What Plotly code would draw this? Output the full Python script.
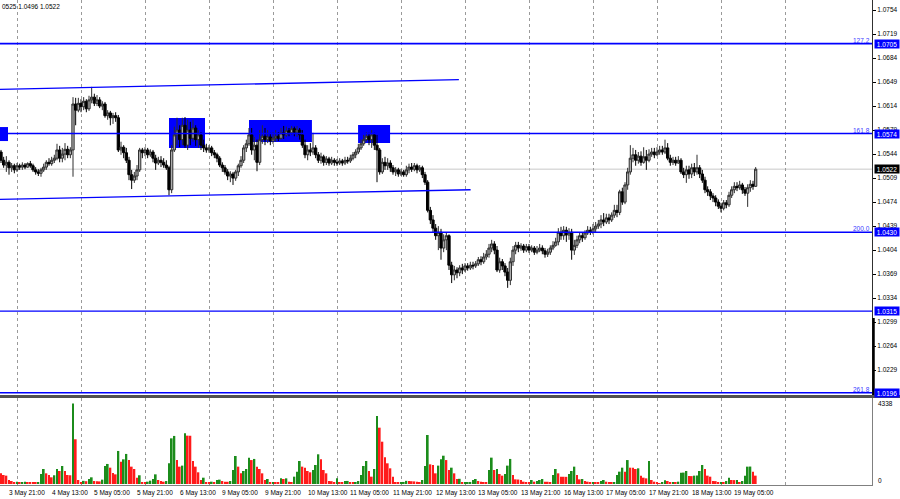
import plotly.graph_objects as go

# ---------------- data ----------------
FIRST_BAR = -3          # bar index of the first candle (0 = "3 May 21:00")
FIRST_OPEN = 1.0547

CLOSE = [
    1.0535, 1.0528, 1.0532, 1.0524, 1.0527, 1.0521, 1.0527, 1.0525, 1.0528, 1.0525,
    1.0530, 1.0527, 1.0521, 1.0518, 1.0516, 1.0521, 1.0525, 1.0532, 1.0530, 1.0535,
    1.0538, 1.0550, 1.0538, 1.0544, 1.0551, 1.0543, 1.0550, 1.0617, 1.0608, 1.0618,
    1.0613, 1.0621, 1.0610, 1.0623, 1.0627, 1.0618, 1.0623, 1.0614, 1.0617, 1.0600,
    1.0604, 1.0597, 1.0600, 1.0597, 1.0550, 1.0554, 1.0546, 1.0535, 1.0514, 1.0506,
    1.0512, 1.0521, 1.0550, 1.0546, 1.0550, 1.0543, 1.0547, 1.0538, 1.0531, 1.0535,
    1.0532, 1.0528, 1.0524, 1.0492, 1.0550, 1.0572, 1.0579, 1.0565, 1.0586, 1.0557,
    1.0579, 1.0567, 1.0582, 1.0565, 1.0572, 1.0557, 1.0553, 1.0550, 1.0553, 1.0546,
    1.0543, 1.0538, 1.0528, 1.0524, 1.0518, 1.0512, 1.0515, 1.0509, 1.0518, 1.0527,
    1.0535, 1.0553, 1.0559, 1.0572, 1.0550, 1.0557, 1.0532, 1.0565, 1.0570, 1.0565,
    1.0569, 1.0563, 1.0567, 1.0570, 1.0567, 1.0575, 1.0572, 1.0578, 1.0575, 1.0581,
    1.0576, 1.0579, 1.0572, 1.0557, 1.0543, 1.0550, 1.0547, 1.0553, 1.0543, 1.0535,
    1.0540, 1.0532, 1.0537, 1.0531, 1.0535, 1.0532, 1.0531, 1.0534, 1.0531, 1.0535,
    1.0534, 1.0538, 1.0543, 1.0547, 1.0553, 1.0559, 1.0565, 1.0570, 1.0565, 1.0572,
    1.0557, 1.0550, 1.0518, 1.0532, 1.0527, 1.0531, 1.0524, 1.0518, 1.0521, 1.0515,
    1.0518, 1.0514, 1.0521, 1.0525, 1.0522, 1.0527, 1.0521, 1.0524, 1.0514, 1.0503,
    1.0462, 1.0448, 1.0436, 1.0425, 1.0430, 1.0407, 1.0419, 1.0425, 1.0382, 1.0368,
    1.0375, 1.0371, 1.0378, 1.0375, 1.0381, 1.0378, 1.0382, 1.0381, 1.0384, 1.0390,
    1.0387, 1.0394, 1.0398, 1.0407, 1.0413, 1.0404, 1.0375, 1.0387, 1.0381, 1.0372,
    1.0360, 1.0387, 1.0404, 1.0411, 1.0407, 1.0410, 1.0404, 1.0409, 1.0404, 1.0407,
    1.0401, 1.0404, 1.0407, 1.0403, 1.0398, 1.0401, 1.0407, 1.0411, 1.0416, 1.0430,
    1.0425, 1.0433, 1.0426, 1.0430, 1.0404, 1.0411, 1.0419, 1.0425, 1.0422, 1.0429,
    1.0433, 1.0430, 1.0435, 1.0439, 1.0442, 1.0448, 1.0445, 1.0451, 1.0448, 1.0455,
    1.0462, 1.0459, 1.0489, 1.0474, 1.0499, 1.0518, 1.0538, 1.0543, 1.0535, 1.0541,
    1.0532, 1.0540, 1.0535, 1.0544, 1.0547, 1.0543, 1.0547, 1.0550, 1.0547, 1.0553,
    1.0538, 1.0532, 1.0535, 1.0531, 1.0535, 1.0518, 1.0514, 1.0521, 1.0515, 1.0524,
    1.0518, 1.0524, 1.0515, 1.0506, 1.0492, 1.0489, 1.0483, 1.0480, 1.0474, 1.0468,
    1.0465, 1.0473, 1.0470, 1.0484, 1.0492, 1.0497, 1.0495, 1.0499, 1.0492, 1.0487,
    1.0495, 1.0500, 1.0497, 1.0522,
]

HIGH = [
    1.0550, 1.0540, 1.0541, 1.0535, 1.0531, 1.0530, 1.0531, 1.0530, 1.0532, 1.0531,
    1.0532, 1.0534, 1.0530, 1.0525, 1.0522, 1.0524, 1.0530, 1.0535, 1.0538, 1.0540,
    1.0543, 1.0559, 1.0556, 1.0553, 1.0560, 1.0556, 1.0554, 1.0627, 1.0626, 1.0626,
    1.0624, 1.0627, 1.0624, 1.0629, 1.0642, 1.0632, 1.0630, 1.0627, 1.0621, 1.0620,
    1.0608, 1.0607, 1.0604, 1.0605, 1.0601, 1.0562, 1.0557, 1.0553, 1.0540, 1.0521,
    1.0518, 1.0528, 1.0553, 1.0553, 1.0554, 1.0553, 1.0551, 1.0550, 1.0543, 1.0540,
    1.0541, 1.0538, 1.0535, 1.0527, 1.0557, 1.0584, 1.0597, 1.0586, 1.0597, 1.0598,
    1.0594, 1.0591, 1.0594, 1.0586, 1.0579, 1.0576, 1.0565, 1.0559, 1.0557, 1.0556,
    1.0550, 1.0546, 1.0541, 1.0532, 1.0528, 1.0522, 1.0519, 1.0518, 1.0521, 1.0530,
    1.0541, 1.0557, 1.0565, 1.0582, 1.0582, 1.0569, 1.0565, 1.0579, 1.0586, 1.0582,
    1.0579, 1.0575, 1.0576, 1.0579, 1.0576, 1.0582, 1.0585, 1.0584, 1.0582, 1.0585,
    1.0584, 1.0585, 1.0582, 1.0579, 1.0565, 1.0557, 1.0560, 1.0575, 1.0557, 1.0547,
    1.0546, 1.0543, 1.0541, 1.0540, 1.0540, 1.0538, 1.0537, 1.0538, 1.0537, 1.0540,
    1.0540, 1.0543, 1.0547, 1.0551, 1.0559, 1.0565, 1.0572, 1.0576, 1.0575, 1.0579,
    1.0575, 1.0572, 1.0553, 1.0538, 1.0540, 1.0538, 1.0535, 1.0528, 1.0525, 1.0524,
    1.0522, 1.0521, 1.0527, 1.0530, 1.0531, 1.0531, 1.0530, 1.0528, 1.0527, 1.0518,
    1.0506, 1.0467, 1.0455, 1.0442, 1.0439, 1.0435, 1.0427, 1.0430, 1.0427, 1.0387,
    1.0381, 1.0379, 1.0382, 1.0384, 1.0385, 1.0385, 1.0387, 1.0387, 1.0388, 1.0394,
    1.0395, 1.0400, 1.0404, 1.0413, 1.0419, 1.0417, 1.0410, 1.0393, 1.0391, 1.0385,
    1.0378, 1.0393, 1.0410, 1.0416, 1.0416, 1.0414, 1.0413, 1.0413, 1.0413, 1.0411,
    1.0410, 1.0410, 1.0413, 1.0411, 1.0407, 1.0406, 1.0411, 1.0417, 1.0422, 1.0436,
    1.0438, 1.0439, 1.0438, 1.0436, 1.0435, 1.0419, 1.0425, 1.0430, 1.0429, 1.0433,
    1.0439, 1.0438, 1.0442, 1.0445, 1.0448, 1.0455, 1.0458, 1.0457, 1.0457, 1.0459,
    1.0470, 1.0470, 1.0492, 1.0495, 1.0503, 1.0524, 1.0557, 1.0553, 1.0550, 1.0547,
    1.0548, 1.0554, 1.0550, 1.0551, 1.0553, 1.0553, 1.0554, 1.0556, 1.0556, 1.0565,
    1.0560, 1.0543, 1.0540, 1.0540, 1.0541, 1.0538, 1.0524, 1.0527, 1.0527, 1.0530,
    1.0531, 1.0543, 1.0528, 1.0521, 1.0511, 1.0497, 1.0493, 1.0487, 1.0484, 1.0478,
    1.0473, 1.0477, 1.0477, 1.0489, 1.0497, 1.0503, 1.0503, 1.0505, 1.0502, 1.0496,
    1.0500, 1.0506, 1.0505, 1.0525,
]

LOW = [
    1.0531, 1.0524, 1.0518, 1.0514, 1.0518, 1.0516, 1.0518, 1.0521, 1.0521, 1.0522,
    1.0524, 1.0524, 1.0518, 1.0514, 1.0512, 1.0511, 1.0518, 1.0521, 1.0527, 1.0527,
    1.0531, 1.0535, 1.0532, 1.0532, 1.0535, 1.0538, 1.0538, 1.0511, 1.0586, 1.0605,
    1.0605, 1.0608, 1.0605, 1.0607, 1.0618, 1.0614, 1.0614, 1.0611, 1.0608, 1.0597,
    1.0594, 1.0586, 1.0588, 1.0591, 1.0547, 1.0543, 1.0538, 1.0531, 1.0506, 1.0493,
    1.0502, 1.0506, 1.0518, 1.0538, 1.0541, 1.0538, 1.0540, 1.0532, 1.0521, 1.0528,
    1.0525, 1.0524, 1.0521, 1.0484, 1.0487, 1.0547, 1.0557, 1.0554, 1.0557, 1.0553,
    1.0550, 1.0557, 1.0562, 1.0556, 1.0553, 1.0550, 1.0547, 1.0546, 1.0546, 1.0541,
    1.0538, 1.0532, 1.0525, 1.0518, 1.0514, 1.0506, 1.0503, 1.0499, 1.0505, 1.0512,
    1.0524, 1.0531, 1.0547, 1.0556, 1.0543, 1.0535, 1.0519, 1.0528, 1.0559, 1.0557,
    1.0560, 1.0557, 1.0559, 1.0562, 1.0563, 1.0565, 1.0566, 1.0569, 1.0570, 1.0572,
    1.0570, 1.0569, 1.0565, 1.0553, 1.0538, 1.0535, 1.0541, 1.0543, 1.0538, 1.0531,
    1.0530, 1.0527, 1.0528, 1.0527, 1.0528, 1.0527, 1.0527, 1.0528, 1.0527, 1.0528,
    1.0530, 1.0531, 1.0535, 1.0538, 1.0544, 1.0550, 1.0556, 1.0562, 1.0557, 1.0553,
    1.0550, 1.0503, 1.0514, 1.0515, 1.0521, 1.0521, 1.0518, 1.0514, 1.0512, 1.0511,
    1.0512, 1.0511, 1.0511, 1.0516, 1.0518, 1.0519, 1.0516, 1.0518, 1.0509, 1.0499,
    1.0459, 1.0442, 1.0430, 1.0419, 1.0404, 1.0390, 1.0401, 1.0404, 1.0375, 1.0356,
    1.0360, 1.0363, 1.0366, 1.0369, 1.0372, 1.0374, 1.0375, 1.0376, 1.0378, 1.0381,
    1.0382, 1.0384, 1.0390, 1.0393, 1.0401, 1.0398, 1.0372, 1.0371, 1.0375, 1.0366,
    1.0349, 1.0353, 1.0381, 1.0398, 1.0401, 1.0403, 1.0400, 1.0401, 1.0400, 1.0401,
    1.0397, 1.0398, 1.0401, 1.0398, 1.0393, 1.0394, 1.0397, 1.0404, 1.0409, 1.0411,
    1.0419, 1.0419, 1.0416, 1.0419, 1.0390, 1.0397, 1.0407, 1.0414, 1.0416, 1.0419,
    1.0426, 1.0426, 1.0427, 1.0430, 1.0435, 1.0436, 1.0439, 1.0442, 1.0442, 1.0445,
    1.0451, 1.0452, 1.0455, 1.0470, 1.0471, 1.0492, 1.0514, 1.0532, 1.0527, 1.0530,
    1.0527, 1.0530, 1.0521, 1.0532, 1.0540, 1.0538, 1.0541, 1.0543, 1.0543, 1.0544,
    1.0535, 1.0527, 1.0528, 1.0527, 1.0530, 1.0515, 1.0509, 1.0502, 1.0508, 1.0509,
    1.0512, 1.0514, 1.0509, 1.0502, 1.0487, 1.0483, 1.0477, 1.0474, 1.0468, 1.0464,
    1.0459, 1.0462, 1.0465, 1.0467, 1.0480, 1.0487, 1.0490, 1.0492, 1.0486, 1.0483,
    1.0467, 1.0489, 1.0492, 1.0496,
]

VOLUME = [
    575, 485, 450, 215, 160, 90, 125, 95, 105, 120,
    100, 95, 90, 60, 95, 540, 810, 575, 485, 360,
    470, 810, 700, 970, 700, 485, 470, 4338, 2410, 215,
    110, 170, 150, 270, 360, 160, 150, 140, 235, 970,
    1080, 880, 595, 520, 1780, 1200, 1330, 1620, 1290, 935,
    810, 340, 470, 90, 80, 125, 180, 270, 520, 215,
    160, 125, 160, 1115, 2460, 2590, 1290, 935, 990, 2730,
    2605, 2600, 1240, 935, 630, 215, 340, 90, 85, 125,
    90, 215, 235, 160, 125, 120, 160, 755, 1510, 935,
    575, 700, 810, 1420, 1290, 1350, 935, 810, 575, 215,
    270, 90, 95, 85, 80, 305, 270, 305, 125, 90,
    395, 665, 1240, 935, 880, 700, 630, 755, 1025, 1600,
    1330, 755, 575, 160, 150, 60, 305, 80, 70, 160,
    165, 90, 60, 90, 160, 485, 970, 1240, 700, 395,
    810, 3665, 3035, 2280, 1440, 1115, 845, 395, 90, 60,
    100, 110, 170, 160, 150, 140, 125, 90, 215, 970,
    2640, 1060, 1025, 575, 990, 1330, 1525, 1290, 755, 880,
    575, 270, 280, 90, 95, 100, 110, 215, 270, 160,
    125, 100, 90, 755, 1420, 755, 810, 540, 450, 540,
    990, 1350, 485, 250, 240, 215, 125, 90, 80, 215,
    125, 160, 215, 270, 125, 120, 90, 485, 810, 575,
    395, 390, 385, 540, 700, 935, 485, 250, 270, 160,
    125, 60, 90, 60, 55, 160, 215, 125, 90, 60,
    90, 485, 665, 880, 665, 1290, 880, 870, 810, 845,
    450, 340, 305, 1240, 215, 125, 60, 50, 60, 200,
    160, 90, 95, 90, 125, 610, 615, 700, 430, 425,
    450, 455, 700, 1025, 810, 450, 395, 160, 155, 90,
    95, 90, 160, 340, 215, 210, 215, 90, 160, 450,
    935, 940, 665, 450,
]

TIME_LABELS = ["3 May 21:00", "4 May 13:00", "5 May 05:00", "5 May 21:00", "6 May 13:00",
               "9 May 05:00", "9 May 21:00", "10 May 13:00", "11 May 05:00", "11 May 21:00",
               "12 May 13:00", "13 May 05:00", "13 May 21:00", "16 May 13:00", "17 May 05:00",
               "17 May 21:00", "18 May 13:00", "19 May 05:00"]
TIME_LABEL_BARS = [0, 16, 32, 48, 64, 80, 96, 112, 128, 144, 160, 176, 192, 208, 224, 240, 256, 272]
DAY_START_BARS = [3, 27, 51, 75, 99, 123, 147, 171, 195, 219, 243, 267, 291]

PRICE_TICKS = [1.0754, 1.0719, 1.0684, 1.0649, 1.0614, 1.0579, 1.0544, 1.0509, 1.0474,
               1.0439, 1.0404, 1.0369, 1.0334, 1.0299, 1.0264, 1.0229]
VOLUME_TICKS = [0, 4338]

LEVEL_PRICES = [1.0705, 1.0574, 1.0430, 1.0315, 1.0196]
LEVEL_NAMES = ["127.2", "161.8", "200.0", "", "261.8"]
LEVEL_WIDTHS = [1.6, 1.3, 1.6, 1.1, 1.6]
LAST_PRICE = 1.0522
HEADER_TEXT = "0525 1.0496 1.0522"

CHANNEL_UPPER = [(-3.375, 1.06384), (168.7, 1.06524)]
CHANNEL_LOWER = [(-3.375, 1.04781), (173.1, 1.04920)]
ZONES = [(-3.375, -0.375, 1.05630, 1.05834),
         (60.0, 73.5, 1.05528, 1.05966),
         (90.0, 113.6, 1.05616, 1.05937),
         (130.9, 142.9, 1.05601, 1.05864)]

# ---------------- figure ----------------
BLUE = "#0000FF"
FONT = "Liberation Sans"
FS = 6.5

bars = list(range(FIRST_BAR, FIRST_BAR + len(CLOSE)))
opens = [FIRST_OPEN] + CLOSE[:-1]

vol_colors = []
for k, v in enumerate(VOLUME):
    if k == 0 or v < VOLUME[k - 1]:
        vol_colors.append("#FF1A1A")
    else:
        vol_colors.append("#1B8C1B")

fig = go.Figure()
fig.add_trace(go.Candlestick(
    x=bars, open=opens, high=HIGH, low=LOW, close=CLOSE,
    xaxis="x", yaxis="y",
    increasing=dict(line=dict(color="#2E2E2E", width=1.0), fillcolor="#B0B0B0"),
    decreasing=dict(line=dict(color="#000000", width=1.0), fillcolor="#000000"),
    whiskerwidth=0, hoverinfo="skip", showlegend=False,
))
fig.add_trace(go.Bar(
    x=bars, y=VOLUME, xaxis="x2", yaxis="y2",
    marker=dict(color=vol_colors, line=dict(width=0)),
    width=0.72, hoverinfo="skip", showlegend=False,
))

X_RANGE = [-3.375, 323.625]
PRICE_RANGE = [1.019281, 1.07686]
VOL_RANGE = [-54, 4634]

grid = dict(showgrid=True, gridcolor="#9A9A9A", griddash="dot", gridwidth=1,
            tickvals=DAY_START_BARS, showticklabels=False, ticks="", zeroline=False)

fig.update_layout(
    width=900, height=499,
    margin=dict(l=0, r=28, t=0, b=14, pad=0, autoexpand=False),
    paper_bgcolor="white", plot_bgcolor="white",
    boxgap=0.15, boxgroupgap=0,
    xaxis=dict(domain=[0, 1], range=X_RANGE, anchor="y", rangeslider=dict(visible=False),
               showline=True, mirror=True, linecolor="#707070", linewidth=1,
               automargin=False, **grid),
    xaxis2=dict(domain=[0, 1], range=X_RANGE, anchor="y2", matches="x",
                showline=True, linecolor="#808080", linewidth=1, automargin=False, **grid),
    yaxis=dict(domain=[0.18557, 1], range=PRICE_RANGE, side="right", anchor="x",
               tickvals=PRICE_TICKS, ticktext=["%.4f" % t for t in PRICE_TICKS],
               ticks="outside", ticklen=3, tickcolor="#000000", tickwidth=1,
               tickfont=dict(family=FONT, size=FS, color="#000000"), automargin=False,
               showgrid=False, zeroline=False, showline=True, linecolor="#303030", linewidth=1),
    yaxis2=dict(domain=[0, 0.17938], range=VOL_RANGE, side="right", anchor="x2",
                showticklabels=False, ticks="", showgrid=False, zeroline=False,
                showline=True, linecolor="#808080", linewidth=1, automargin=False),
)

shapes = []
# background zones
for x0, x1, p0, p1 in ZONES:
    shapes.append(dict(type="rect", xref="x", yref="y", x0=x0, x1=x1, y0=p0, y1=p1,
                       fillcolor=BLUE, line=dict(width=0), layer="between"))
# current price line
shapes.append(dict(type="line", xref="paper", yref="y", x0=0, x1=1, y0=LAST_PRICE, y1=LAST_PRICE,
                   line=dict(color="#C8C8C8", width=1), layer="between"))
# horizontal levels
for p, w in zip(LEVEL_PRICES, LEVEL_WIDTHS):
    shapes.append(dict(type="line", xref="paper", yref="y", x0=0, x1=1, y0=p, y1=p,
                       line=dict(color=BLUE, width=w), layer="above"))
# channel
for (xa, pa), (xb, pb) in (CHANNEL_UPPER, CHANNEL_LOWER):
    shapes.append(dict(type="line", xref="x", yref="y", x0=xa, x1=xb, y0=pa, y1=pb,
                       line=dict(color=BLUE, width=1.3), layer="above"))
# panel separator and axis accent
shapes.append(dict(type="line", xref="paper", yref="paper", x0=0, x1=900 / 872,
                   y0=(485 - 396.5) / 485, y1=(485 - 396.5) / 485,
                   line=dict(color="#505050", width=3)))
shapes.append(dict(type="line", xref="paper", yref="paper", x0=873.5 / 872, x1=873.5 / 872,
                   y0=(485 - 318) / 485, y1=(485 - 395) / 485,
                   line=dict(color="#000000", width=2.5)))
fig.update_layout(shapes=shapes)

ann = []
# header
ann.append(dict(text=HEADER_TEXT, xref="paper", yref="paper", x=0, y=(485 - 7) / 485,
                xanchor="left", yanchor="middle", showarrow=False,
                font=dict(family=FONT, size=FS, color="#000000")))
# level names
for p, name in zip(LEVEL_PRICES, LEVEL_NAMES):
    if name:
        ann.append(dict(text=name, xref="paper", yref="y", x=1, y=p, xanchor="right",
                        yanchor="bottom", xshift=-1, yshift=-1, showarrow=False, borderpad=0,
                        font=dict(family=FONT, size=FS, color="#3C3CFF")))
# price boxes on the axis
box_prices = LEVEL_PRICES + [LAST_PRICE]
box_colors = [BLUE] * len(LEVEL_PRICES) + ["#000000"]
for p, c in zip(box_prices, box_colors):
    ann.append(dict(text="%.4f" % p, xref="paper", yref="y", x=1, y=p, xanchor="left",
                    yanchor="middle", xshift=2, showarrow=False, bgcolor=c, borderpad=0,
                    width=24, height=8, align="center",
                    font=dict(family=FONT, size=FS, color="#FFFFFF")))
# volume scale labels
for v, dy in zip(VOLUME_TICKS, [4, 0]):
    ann.append(dict(text=str(v), xref="paper", yref="y2", x=1, y=v, xanchor="left",
                    yanchor="middle", xshift=4, yshift=dy, showarrow=False,
                    font=dict(family=FONT, size=FS, color="#000000")))
# time labels
for b, t in zip(TIME_LABEL_BARS, TIME_LABELS):
    ann.append(dict(text=t, xref="x2", yref="paper", x=b, y=0, xanchor="left", yanchor="top",
                    xshift=-2, yshift=-2, showarrow=False,
                    font=dict(family=FONT, size=FS, color="#000000")))
fig.update_layout(annotations=ann)

fig.write_html("out.html", config={"displayModeBar": False},
               post_script="document.body.style.margin='0';document.body.style.padding='0';")
